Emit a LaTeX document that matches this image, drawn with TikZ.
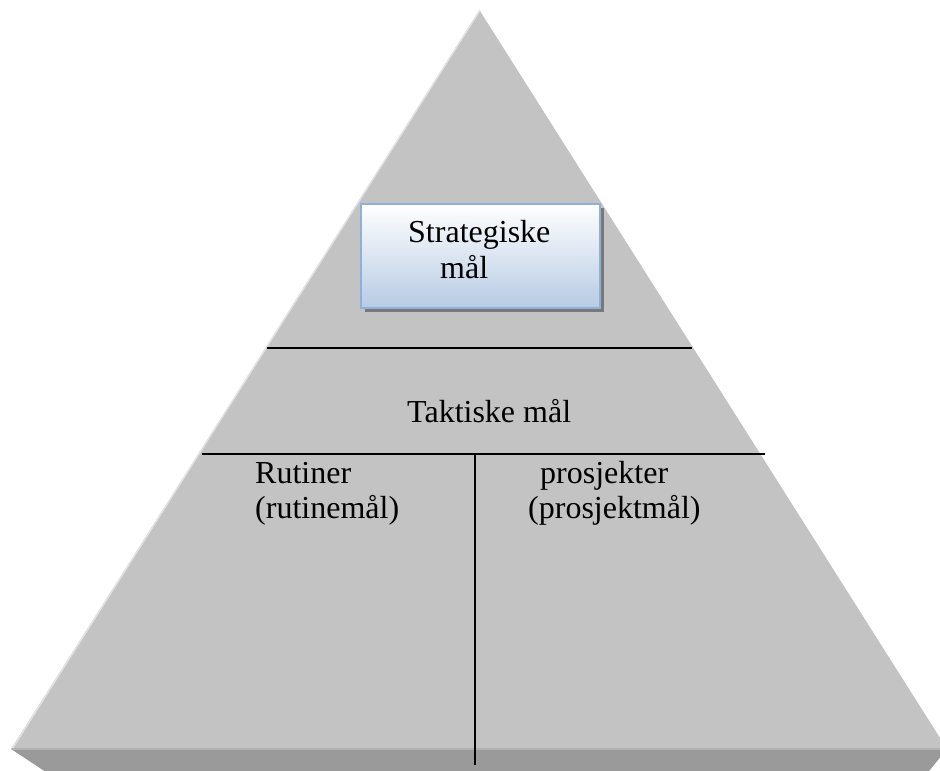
\documentclass[tikz,border=0pt]{standalone}
\usepackage{fontspec}
\setmainfont{Liberation Serif}
\definecolor{face}{HTML}{C3C3C3}
\definecolor{strip}{HTML}{9A9A9A}
\definecolor{stripedge}{HTML}{B2B2B2}
\definecolor{highlight}{HTML}{E2E2E2}
\definecolor{boxborder}{HTML}{8FB0D9}
\definecolor{boxbottom}{HTML}{B8CCE4}
\definecolor{boxshadow}{HTML}{787878}
\tikzset{
  lbl/.style={inner sep=0pt, anchor=base west, font=\fontsize{32}{36}\selectfont},
  divider/.style={draw=black, line width=2.4pt},
}
\begin{document}
\begin{tikzpicture}[x=1pt,y=-1pt]
\useasboundingbox (0,0) rectangle (940,771);
% pyramid body
\coordinate (apex) at (480,11);
\coordinate (bl) at (11,749);
\coordinate (br) at (947,749);
\fill[strip] (bl) -- (br) -- (925,776) -- (52,776) -- cycle;
\fill[face] (bl) -- (apex) -- (br) -- cycle;
\draw[highlight, line width=1.6pt] ([xshift=1pt]bl) -- ([yshift=1pt]apex);
\draw[stripedge, line width=2pt] (12,749) -- (945,749);
% box with shadow
\fill[boxshadow] (365,208) rectangle (604,312);
\shade[top color=white, bottom color=boxbottom] (360,203) rectangle (599,307);
\node[draw=boxborder, line width=1.8pt, minimum width=239pt, minimum height=104pt, inner sep=0pt, anchor=north west] (box) at (360,203) {};
\node[lbl] (s1) at (408,242) {Strategiske};
\node[lbl] (s2) at (440,278) {mål};
% dividers
\coordinate (l1a) at (267,348);
\coordinate (l1b) at (692,348);
\coordinate (l2a) at (202,454);
\coordinate (l2b) at (765,454);
\coordinate (vbot) at (475,765);
\draw[divider] (l1a) -- (l1b);
\draw[divider] (l2a) -- (l2b);
\draw[divider] (l2a -| vbot) -- (vbot);
% labels
\node[lbl] (tak) at (407,422) {Taktiske mål};
\node[lbl] (r1) at (255,483) {Rutiner};
\node[lbl] (r2) at (255,518) {(rutinemål)};
\node[lbl] (p1) at (540,483) {prosjekter};
\node[lbl] (p2) at (528,518) {(prosjektmål)};
\end{tikzpicture}
\end{document}
